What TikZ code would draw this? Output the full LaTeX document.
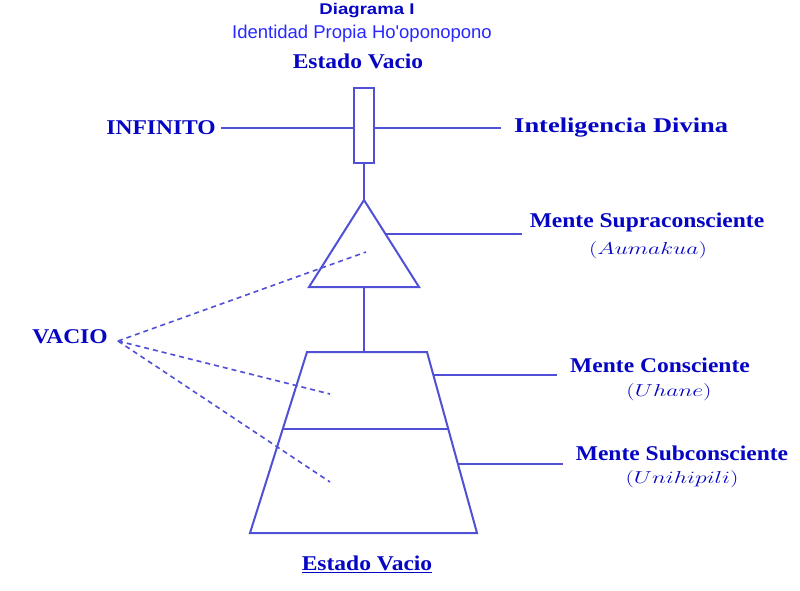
\documentclass[tikz,border=0pt]{standalone}
\usepackage{fontspec}
\usepackage{graphicx}
\setmainfont{Liberation Serif}
\newfontfamily\lblfont[FakeStretch=1.12]{Liberation Serif}
\newfontfamily\widelblfont[FakeStretch=1.26]{Liberation Serif}
\newfontfamily\titlefont[FakeStretch=1.2]{Liberation Sans}
\newfontfamily\subfont{Liberation Sans}
\usetikzlibrary{calc}
\definecolor{lineblue}{RGB}{80,80,215}
\definecolor{textblue}{RGB}{5,5,195}
\definecolor{subblue}{RGB}{40,40,255}
\tikzset{
  conn/.style={draw=lineblue, line width=2pt},
  dashconn/.style={draw=lineblue, line width=1.6pt, dash pattern=on 5pt off 4pt},
  lbl/.style={text=textblue, font=\lblfont\bfseries\fontsize{21}{23}\selectfont, inner sep=1pt},
  ital/.style={text=textblue, font=\fontsize{19}{21}\selectfont, inner sep=1pt},
}
\newcommand{\itl}[1]{\scalebox{1.37}[1]{$(#1)$}}
\begin{document}
\begin{tikzpicture}[x=1pt,y=-1pt]
\useasboundingbox[fill=white] (0,0) rectangle (800,590);
% titles
\node[text=textblue, font=\titlefont\bfseries\fontsize{15.5}{17}\selectfont, inner sep=0] (title) at (367,10.5) {Diagrama I};
\node[text=subblue, font=\subfont\fontsize{18.5}{20}\selectfont, inner sep=0] (sub) at (362,34) {Identidad Propia Ho\textquotesingle oponopono};
\node[lbl] (top) at (358,61) {Estado Vacio};
% infinito line and box
\node[lbl, anchor=east] (inf) at (217,128) {INFINITO};
\node[lbl, font=\widelblfont\bfseries\fontsize{21}{23}\selectfont, anchor=west] (intel) at (513,128) {Inteligencia Divina};
\draw[conn] ([xshift=4pt]inf.east) -- ([xshift=-12pt]intel.west);
\node[draw=lineblue, line width=2pt, fill=white, minimum width=20pt, minimum height=75pt, inner sep=0] (rect) at (364,125.5) {};
% triangle
\coordinate (apex) at (364,200);
\coordinate (tl) at (309,287);
\coordinate (tr) at (419,287);
\coordinate (tbm) at (364,287);
\draw[conn] (rect.south) -- (apex);
\draw[conn] (apex) -- (tl) -- (tr) -- cycle;
\coordinate (tside) at (385.5,234);
\coordinate (tend) at (522,234);
\draw[conn] (tside) -- (tend);
\node[lbl] (supra) at (647,222) {Mente Supraconsciente};
\node[ital] (aum) at (648,250) {\itl{Aumakua}};
% trapezoid
\coordinate (ztl) at (307,352);
\coordinate (ztr) at (427,352);
\coordinate (zbr) at (477,533);
\coordinate (zbl) at (250,533);
\coordinate (ztm) at (364,352);
\draw[conn] (tbm) -- (ztm);
\draw[conn] (ztl) -- (ztr) -- (zbr) -- (zbl) -- cycle;
\coordinate (zml) at (283,429);
\coordinate (zmr) at (448,429);
\draw[conn] (zml) -- (zmr);
\coordinate (cside) at (433,375);
\coordinate (cend) at (557,375);
\draw[conn] (cside) -- (cend);
\coordinate (sside) at (458,464);
\coordinate (send) at (563,464);
\draw[conn] (sside) -- (send);
\node[lbl] (cons) at (660,365) {Mente Consciente};
\node[ital] (uhane) at (669,392) {\itl{Uhane}};
\node[lbl] (subc) at (682,453) {Mente Subconsciente};
\node[ital] (uni) at (682,479) {\itl{Unihipili}};
% vacio
\node[lbl] (vacio) at (70,337) {VACIO};
\coordinate (vtip) at (118,341);
\coordinate (v1) at (366,252);
\coordinate (v2) at (330,394);
\coordinate (v3) at (330,482);
\draw[dashconn] (vtip) -- (v1);
\draw[dashconn] (vtip) -- (v2);
\draw[dashconn] (vtip) -- (v3);
% bottom
\node[lbl] (bot) at (367,564) {\underline{Estado Vacio}};
\end{tikzpicture}
\end{document}
